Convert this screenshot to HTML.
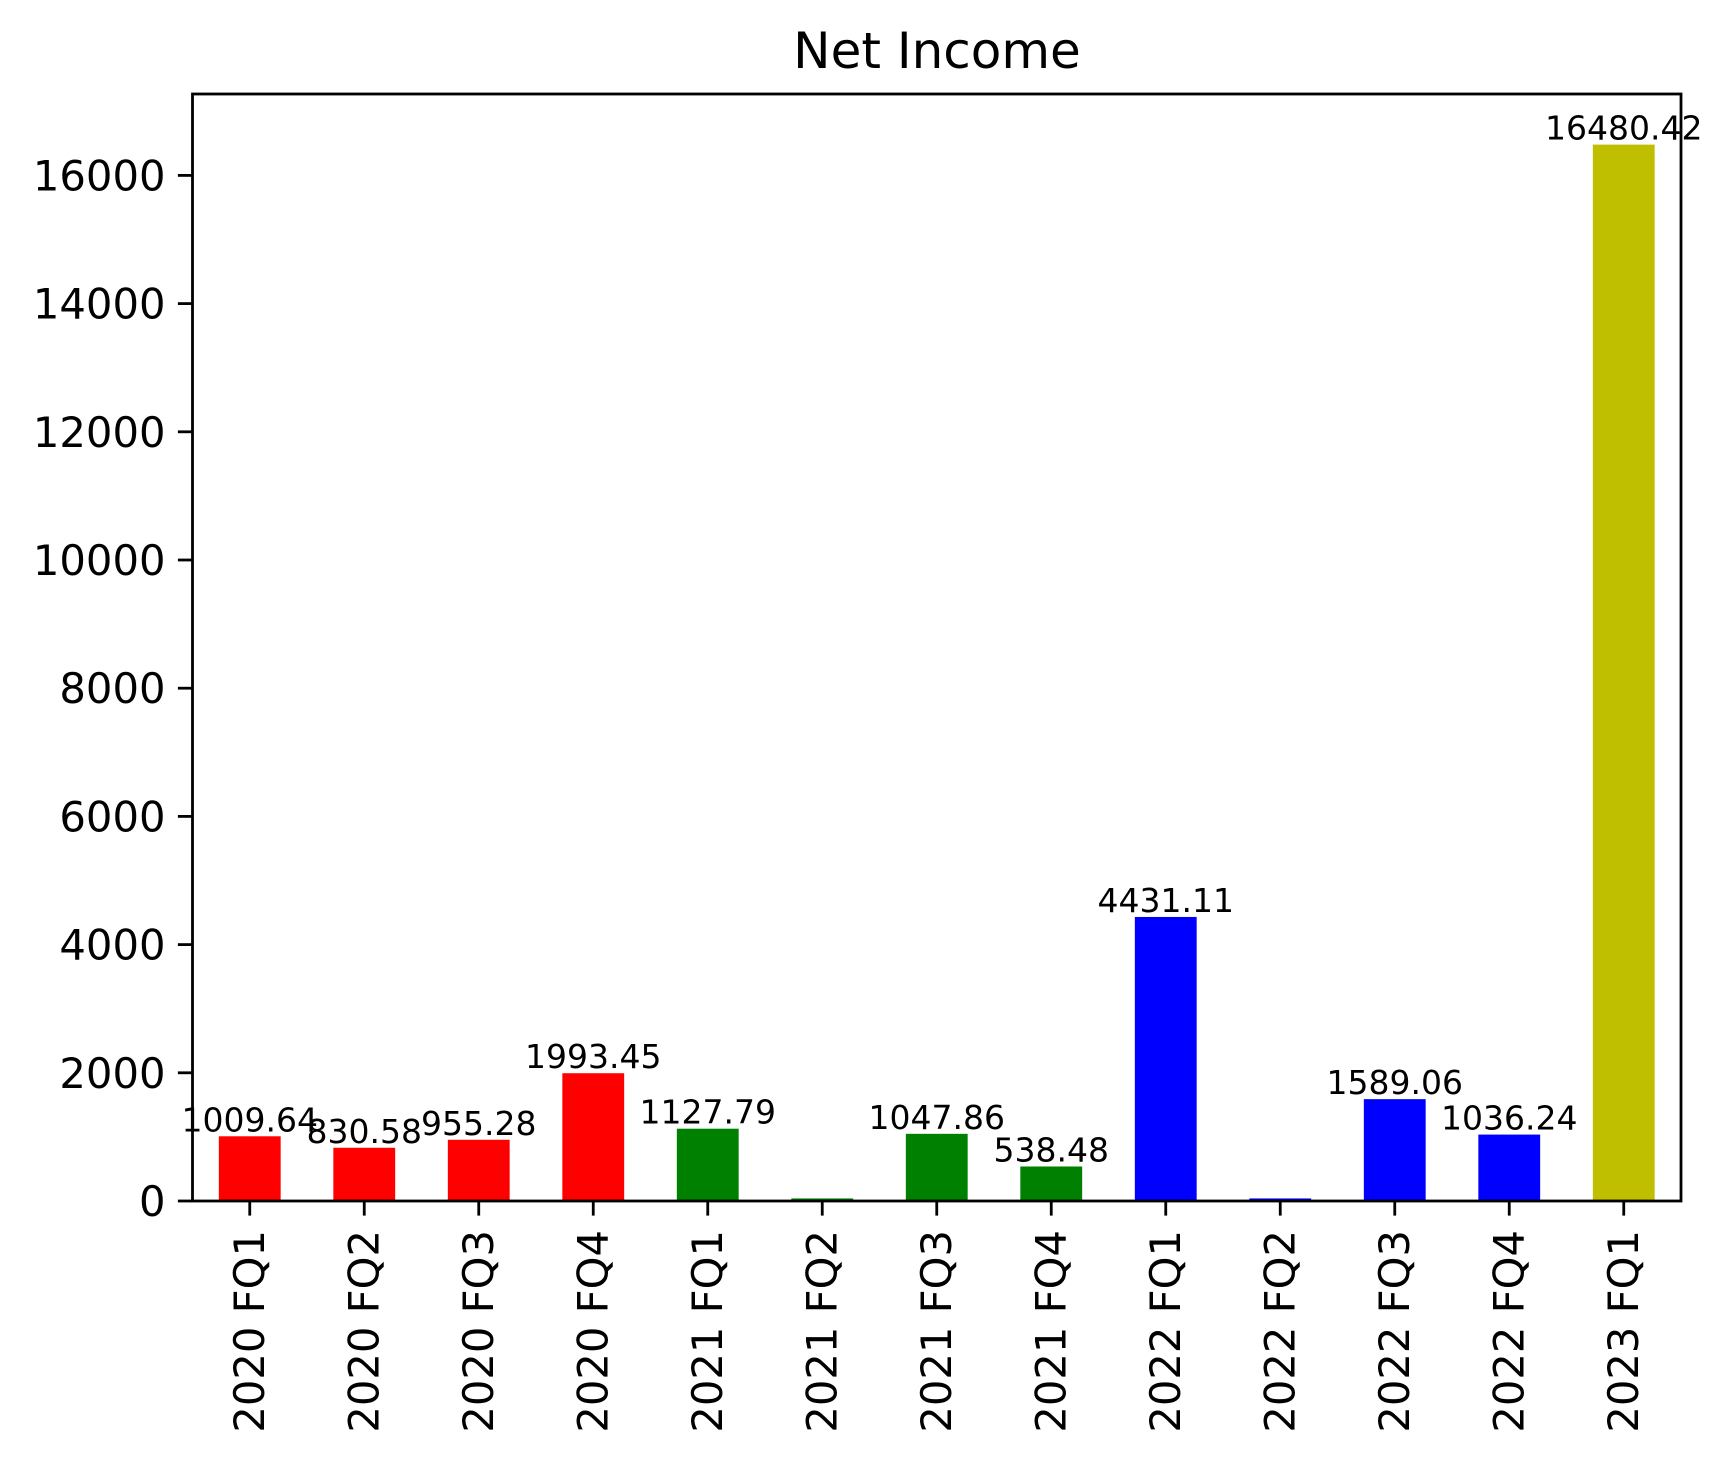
<!DOCTYPE html>
<html><head><meta charset="utf-8"><style>
html,body{margin:0;padding:0;background:#fff;}
svg{display:block;font-family:"DejaVu Sans","Liberation Sans",sans-serif;}
</style></head><body>
<svg id="chart" width="1732" height="1463" viewBox="0 0 1732 1463" xmlns="http://www.w3.org/2000/svg">
<rect x="0" y="0" width="1732" height="1463" fill="#fff"/>
<text x="937" y="68" font-size="50" text-anchor="middle">Net Income</text>
<g id="bars"></g><g id="labels"></g><g id="axes"></g>
</svg>
<script>
const categories = ["2020 FQ1","2020 FQ2","2020 FQ3","2020 FQ4","2021 FQ1","2021 FQ2","2021 FQ3","2021 FQ4","2022 FQ1","2022 FQ2","2022 FQ3","2022 FQ4","2023 FQ1"];
const values = [1009.64,830.58,955.28,1993.45,1127.79,40,1047.86,538.48,4431.11,40,1589.06,1036.24,16480.42];
const valueLabels = ["1009.64","830.58","955.28","1993.45","1127.79","","1047.86","538.48","4431.11","","1589.06","1036.24","16480.42"];
const barColors = ["#ff0000","#ff0000","#ff0000","#ff0000","#008000","#008000","#008000","#008000","#0000ff","#0000ff","#0000ff","#0000ff","#bfbf00"];
const yTicks = [0,2000,4000,6000,8000,10000,12000,14000,16000];

const NS="http://www.w3.org/2000/svg";
const L=192.5,R=1681,T=94,B=1201;
const yMax=17270;
const xMin=-0.5,xMax=categories.length-0.5;
function xs(i){return L+(i-xMin)/(xMax-xMin)*(R-L);}
function ys(v){return B-v/yMax*(B-T);}
const step=(R-L)/(xMax-xMin);
const bw=step*0.54;
function mk(tag,attrs,parent){const e=document.createElementNS(NS,tag);for(const k in attrs)e.setAttribute(k,attrs[k]);parent.appendChild(e);return e;}
const gb=document.getElementById('bars'),gl=document.getElementById('labels'),ga=document.getElementById('axes');
values.forEach((v,i)=>{
  const y=ys(v);
  const r=mk('rect',{x:xs(i)-bw/2,y:y,width:bw,height:B-y,fill:barColors[i]},gb);
  
  
  if(valueLabels[i]){
    const t=mk('text',{x:xs(i),y:y-5,'font-size':33,'text-anchor':'middle'},gl);
    t.textContent=valueLabels[i];
    
    
  }
  const tk=mk('line',{x1:xs(i),x2:xs(i),y1:B,y2:B+14.6,stroke:'#000','stroke-width':2.8},ga);
  
  
  const xl=mk('text',{transform:`translate(${xs(i)+14},${B+29}) rotate(-90)`,'font-size':41.7,'text-anchor':'end'},ga);
  xl.textContent=categories[i];
  
  
});
yTicks.forEach(v=>{
  const y=ys(v);
  const tk=mk('line',{x1:L-14.6,x2:L,y1:y,y2:y,stroke:'#000','stroke-width':2.8},ga);
  
  
  const t=mk('text',{x:L-27,y:y+15,'font-size':41.7,'text-anchor':'end'},ga);
  t.textContent=String(v);
  
  
});
const frame=mk('rect',{x:L,y:T,width:R-L,height:B-T,fill:'none',stroke:'#000','stroke-width':2.8},ga);


</script>
</body></html>
